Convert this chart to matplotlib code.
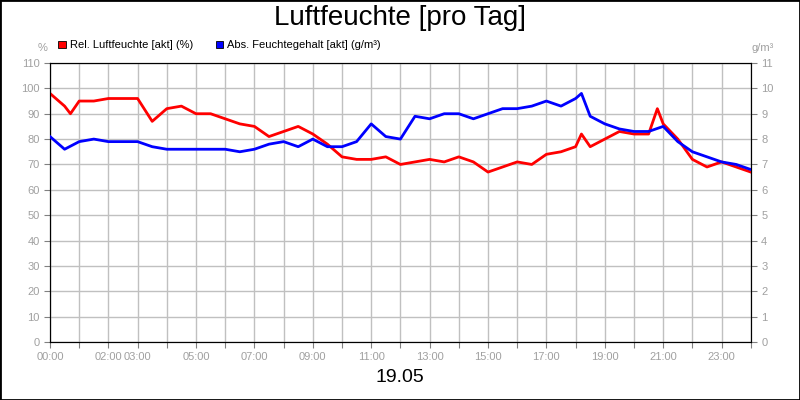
import matplotlib
matplotlib.use("Agg")
import matplotlib.pyplot as plt
from matplotlib.patches import Rectangle

plt.rcParams['font.family'] = 'Liberation Sans'

# hours of day
hours_rel = [0, 0.5, 0.7, 1.0, 1.5, 2, 2.5, 3, 3.5, 4, 4.5, 5, 5.5, 6, 6.5, 7, 7.5, 8, 8.5, 9,
             9.5, 10, 10.5, 11, 11.5, 12, 12.5, 13, 13.5, 14, 14.5, 15, 15.5, 16, 16.5, 17,
             17.5, 18, 18.2, 18.5, 19, 19.5, 20, 20.5, 20.8, 21, 21.5, 22, 22.5, 23, 23.5, 24]
rel_humidity = [98, 93, 90, 95, 95, 96, 96, 96, 87, 92, 93, 90, 90, 88, 86, 85, 81, 83, 85, 82,
                78, 73, 72, 72, 73, 70, 71, 72, 71, 73, 71, 67, 69, 71, 70, 74,
                75, 77, 82, 77, 80, 83, 82, 82, 92, 86, 80, 72, 69, 71, 69, 67]

hours_abs = [0, 0.5, 1, 1.5, 2, 2.5, 3, 3.5, 4, 4.5, 5, 5.5, 6, 6.5, 7, 7.5, 8, 8.5, 9,
             9.5, 10, 10.5, 11, 11.5, 12, 12.5, 13, 13.5, 14, 14.5, 15, 15.5, 16, 16.5, 17,
             17.5, 18, 18.2, 18.5, 19, 19.5, 20, 20.5, 21, 21.5, 22, 22.5, 23, 23.5, 24]
abs_humidity = [8.1, 7.6, 7.9, 8.0, 7.9, 7.9, 7.9, 7.7, 7.6, 7.6, 7.6, 7.6, 7.6, 7.5, 7.6, 7.8, 7.9, 7.7, 8.0,
                7.7, 7.7, 7.9, 8.6, 8.1, 8.0, 8.9, 8.8, 9.0, 9.0, 8.8, 9.0, 9.2, 9.2, 9.3, 9.5,
                9.3, 9.6, 9.8, 8.9, 8.6, 8.4, 8.3, 8.3, 8.5, 7.9, 7.5, 7.3, 7.1, 7.0, 6.8]

tick_hours = [0, 2, 3, 5, 7, 9, 11, 13, 15, 17, 19, 21, 23]
tick_labels = ['00:00', '02:00', '03:00', '05:00', '07:00', '09:00', '11:00',
               '13:00', '15:00', '17:00', '19:00', '21:00', '23:00']

gray = '#a0a0a0'
fig = plt.figure(figsize=(8, 4), dpi=100)
fig.patches.append(Rectangle((0, 0), 1, 1, transform=fig.transFigure,
                             fill=False, edgecolor='black', linewidth=2))
ax = fig.add_axes([0.0625, 0.145, 0.876, 0.6975])
ax2 = ax.twinx()

ax.plot(hours_rel, rel_humidity, color='#ff0000', linewidth=2, zorder=3)
ax2.plot(hours_abs, abs_humidity, color='#0000ff', linewidth=2, zorder=3)

ax.set_xlim(0, 24)
ax.set_ylim(0, 110)
ax2.set_ylim(0, 11)
ax.set_yticks(range(0, 111, 10))
ax2.set_yticks(range(0, 12))
ax.set_xticks(range(0, 25), minor=False)
ax.set_xticklabels([tick_labels[tick_hours.index(h)] if h in tick_hours else '' for h in range(0, 25)])
ax.grid(True, color='#c0c0c0', linewidth=1)
ax.set_axisbelow(True)
for a in (ax, ax2):
    a.tick_params(colors=gray, labelsize=8, length=4, labelcolor=gray)
    a.tick_params(axis='both', color='#808080')
    for s in a.spines.values():
        s.set_color('black')

fig.text(0.5, 0.955, 'Luftfeuchte [pro Tag]', ha='center', va='center', fontsize=20)
fig.text(0.5, 0.055, '19.05', ha='center', va='center', fontsize=14)
fig.text(0.053, 0.88, '%', ha='center', va='center', fontsize=8, color=gray)
fig.text(0.953, 0.88, 'g/m³', ha='center', va='center', fontsize=8, color=gray)

for x, color, label in [(0.073, '#ff0000', 'Rel. Luftfeuchte [akt] (%)'),
                        (0.27, '#0000ff', 'Abs. Feuchtegehalt [akt] (g/m³)')]:
    fig.patches.append(Rectangle((x, 0.879), 0.009, 0.018, transform=fig.transFigure,
                                 facecolor=color, edgecolor='black', linewidth=0.6))
    fig.text(x + 0.014, 0.888, label, ha='left', va='center', fontsize=8)

fig.savefig('out.png', dpi=100)
